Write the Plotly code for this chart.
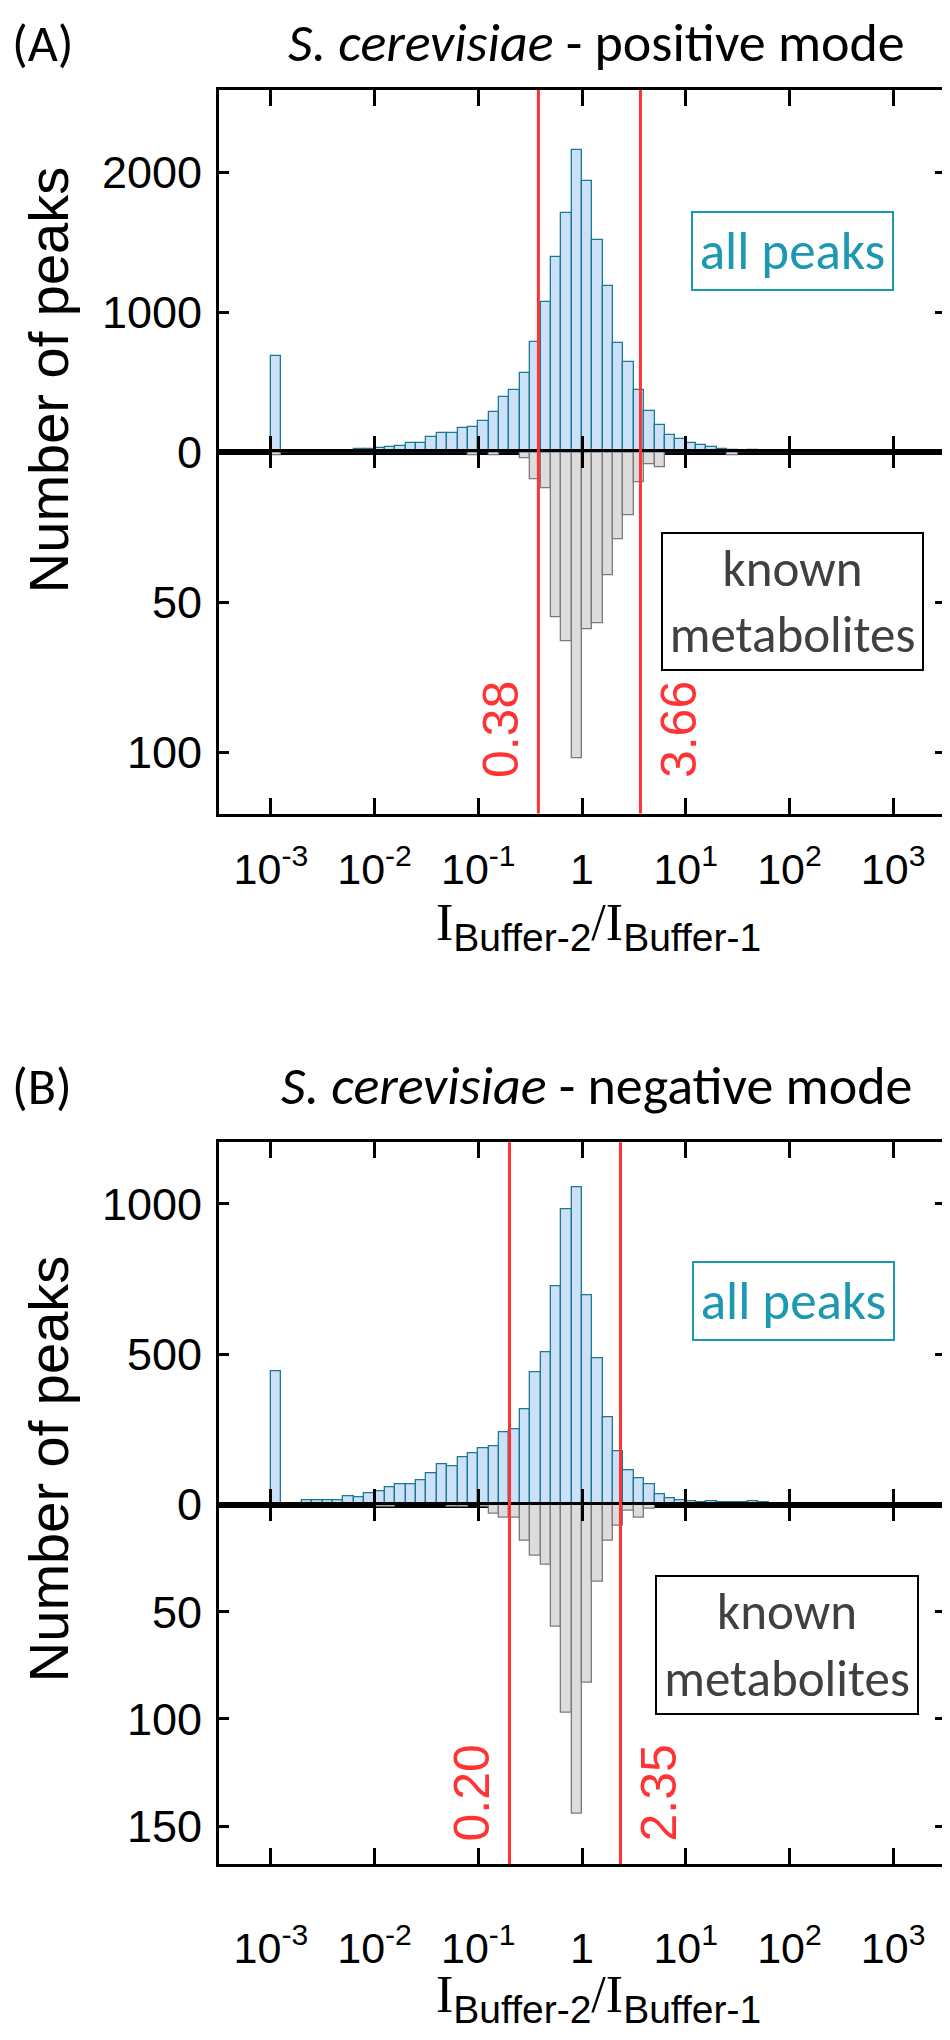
import numpy as np
import plotly.graph_objects as go

# ---------------- data ----------------
# lower edges of the log10(I_Buffer-2 / I_Buffer-1) bins, width 0.1 decade
BIN_LOG_EDGES = [round(-3.0 + 0.1 * k, 1) for k in range(55)]
BIN_WIDTH = 0.1

# (A) positive mode
A_ALL_PEAKS = [686, 3, 2, 0, 3, 5, 8, 10, 21, 26,
               33, 38, 45, 69, 64, 109, 137, 139, 177, 184,
               225, 288, 395, 444, 567, 789, 1073, 1395, 1714, 2163,
               1943, 1518, 1187, 785, 643, 447, 296, 196, 123, 95,
               66, 52, 40, 24, 17, 12, 14, 8, 6, 5,
               4, 4, 3, 3, 2]
A_KNOWN = [1, 0, 0, 0, 0, 0, 0, 0, 0, 0,
           0, 0, 0, 0, 0, 0, 0, 0, 0, 1,
           0, 1, 0, 0, 2, 9, 12, 55, 63, 102,
           59, 57, 41, 29, 21, 10, 4, 5, 0, 0,
           0, 0, 0, 0, 1, 0, 0, 0, 0, 0,
           0, 0, 0, 0, 0]
A_THRESHOLDS = [0.38, 3.66]
A_THRESHOLD_LABELS = ["0.38", "3.66"]

# (B) negative mode
B_ALL_PEAKS = [442, 0, 4, 14, 16, 16, 13, 28, 26, 38,
               44, 57, 69, 67, 82, 103, 133, 128, 157, 170,
               187, 193, 242, 249, 316, 440, 508, 727, 981, 1054,
               697, 488, 292, 179, 113, 88, 69, 35, 20, 16,
               11, 8, 11, 8, 9, 8, 10, 7, 6, 0,
               0, 0, 0, 0, 0]
B_KNOWN = [0, 0, 0, 0, 0, 0, 0, 0, 0, 0,
           1, 1, 0, 0, 0, 0, 0, 1, 1, 0,
           1, 4, 6, 6, 17, 24, 28, 57, 97, 144,
           83, 36, 17, 10, 3, 6, 2, 0, 0, 0,
           0, 0, 0, 0, 0, 0, 0, 0, 0, 0,
           0, 0, 0, 0, 0]
B_THRESHOLDS = [0.20, 2.35]
B_THRESHOLD_LABELS = ["0.20", "2.35"]

X_TICK_LOG = [-3, -2, -1, 0, 1, 2, 3]
X_TICK_TEXT = ["10<sup>-3</sup>", "10<sup>-2</sup>", "10<sup>-1</sup>", "1",
               "10<sup>1</sup>", "10<sup>2</sup>", "10<sup>3</sup>"]

A_UP_TICKS = [0, 1000, 2000]
A_LO_TICKS = [50, 100]
B_UP_TICKS = [0, 500, 1000]
B_LO_TICKS = [50, 100, 150]

TITLE_A = "<i>S. cerevisiae</i> - positive mode"
TITLE_B = "<i>S. cerevisiae</i> - negative mode"

# ---------------- layout helpers ----------------
W, H = 950, 2040
def py(p):
    return 1 - p / H
def px(p):
    return p / W

XD = [px(211), px(937)]
A_UP = [py(450), py(83)]
A_LO = [py(816), py(450)]
B_UP = [py(1516), py(1149)]
B_LO = [py(1880), py(1516)]

ARIAL = "Liberation Sans, Arial, sans-serif"
NARROW = "Liberation Sans Narrow, Arial Narrow, Liberation Sans, Arial, sans-serif"
CALIBRI = "Carlito, Calibri, Lato, sans-serif"

centers = [e + BIN_WIDTH / 2 for e in BIN_LOG_EDGES]

UP_FILL, UP_LINE = "#cce0f7", "#1a7a93"
LO_FILL, LO_LINE = "#dcdcdc", "#7a7a7a"
RED = "#ff3333"
TEAL = "#1c98b0"

fig = go.Figure()

def add_bars(vals, xa, ya, fill, line):
    fig.add_trace(go.Bar(x=centers, y=vals, width=BIN_WIDTH, xaxis=xa, yaxis=ya,
                         marker=dict(color=fill, line=dict(color=line, width=1.3)),
                         showlegend=False, hoverinfo="skip"))

add_bars(A_ALL_PEAKS, "x", "y", UP_FILL, UP_LINE)
add_bars(A_KNOWN, "x2", "y2", LO_FILL, LO_LINE)
add_bars(B_ALL_PEAKS, "x3", "y3", UP_FILL, UP_LINE)
add_bars(B_KNOWN, "x4", "y4", LO_FILL, LO_LINE)

def xax(anchor, labels, standoff=0):
    d = dict(domain=XD, range=[-3.5, 3.5], anchor=anchor, showline=True, linewidth=3,
             linecolor="black", mirror="ticks", ticks="inside", ticklen=16, tickwidth=2.5,
             tickcolor="black", tickmode="array", tickvals=X_TICK_LOG, ticktext=X_TICK_TEXT,
             showgrid=False, zeroline=False, showticklabels=labels,
             tickfont=dict(family=ARIAL, size=43, color="black"))
    if labels:
        d["ticklabelstandoff"] = standoff
    return d

def yax(anchor, dom, rng, tv):
    return dict(domain=dom, range=rng, anchor=anchor, showline=True, linewidth=3,
                linecolor="black", mirror="ticks", ticks="inside", ticklen=10, tickwidth=2.5,
                tickcolor="black", tickmode="array", tickvals=tv, showgrid=False,
                zeroline=False, tickfont=dict(family=ARIAL, size=45, color="black"),
                ticklabelstandoff=5)

fig.update_layout(
    width=W, height=H, margin=dict(l=0, r=0, t=0, b=0),
    paper_bgcolor="white", plot_bgcolor="white", bargap=0,
    xaxis=xax("y", False), xaxis2=xax("y2", True, 16),
    xaxis3=xax("y3", False), xaxis4=xax("y4", True, 44),
    yaxis=yax("x", A_UP, [0, 2590], A_UP_TICKS),
    yaxis2=yax("x2", A_LO, [120.4, 0], A_LO_TICKS),
    yaxis3=yax("x3", B_UP, [0, 1205], B_UP_TICKS),
    yaxis4=yax("x4", B_LO, [167.7, 0], B_LO_TICKS),
)

shapes = []
ann = []
def thresholds(thr, labels, xref, ytop, ybot, label_y):
    for i, (t, lab) in enumerate(zip(thr, labels)):
        xv = float(np.log10(t))
        shapes.append(dict(type="line", xref=xref, yref="paper", x0=xv, x1=xv,
                           y0=py(ybot), y1=py(ytop), line=dict(color=RED, width=3),
                           layer="above"))
        ann.append(dict(text=lab, xref=xref, yref="paper", x=xv, y=py(label_y),
                        xshift=(-38 if i == 0 else 38), showarrow=False, textangle=-90,
                        font=dict(family=NARROW, size=50, color=RED),
                        xanchor="center", yanchor="middle"))

thresholds(A_THRESHOLDS, A_THRESHOLD_LABELS, "x", 83, 816, 731)
thresholds(B_THRESHOLDS, B_THRESHOLD_LABELS, "x3", 1149, 1880, 1808)

def box(text, cx, cy, w, h, color, border, size):
    ann.append(dict(text=text, xref="paper", yref="paper", x=px(cx), y=py(cy),
                    showarrow=False, xanchor="center", yanchor="middle",
                    width=w, height=h, borderpad=0, borderwidth=2, bordercolor=border,
                    bgcolor="white", align="center",
                    font=dict(family=CALIBRI, size=size, color=color)))

box("all peaks", 784.5, 246, 199, 76, TEAL, TEAL, 53)
box("known<br>metabolites", 784.5, 601.5, 259, 135, "#404040", "black", 51)
box("all peaks", 785.5, 1310, 199, 76, TEAL, TEAL, 53)
box("known<br>metabolites", 779, 1658, 260, 136, "#404040", "black", 51)

def text(t, x, y, size, fam, xanchor="center", angle=0, color="black"):
    ann.append(dict(text=t, xref="paper", yref="paper", x=px(x), y=py(y), showarrow=False,
                    xanchor=xanchor, yanchor="middle", textangle=angle,
                    font=dict(family=fam, size=size, color=color)))

text("(A)", 2, 35, 52, CALIBRI, xanchor="left")
text(TITLE_A, 588, 35, 54, CALIBRI)
text("(B)", 2, 1092, 52, CALIBRI, xanchor="left")
text(TITLE_B, 588, 1092, 54, CALIBRI)

text("Number of peaks", 40, 377, 56, ARIAL, angle=-90)
text("Number of peaks", 40, 1480, 56, ARIAL, angle=-90)

XT = ("<span style='font-family:Liberation Serif'>I</span>"
      "<sub><span style='font-size:39px'>Buffer-2</span></sub>"
      "<span style='font-family:Liberation Serif'>/I</span>"
      "<sub><span style='font-size:39px'>Buffer-1</span></sub>")
text(XT, 590, 930, 52, ARIAL)
text(XT, 590, 2016, 52, ARIAL)

fig.update_layout(shapes=shapes, annotations=ann)
fig.write_html("out.html")
